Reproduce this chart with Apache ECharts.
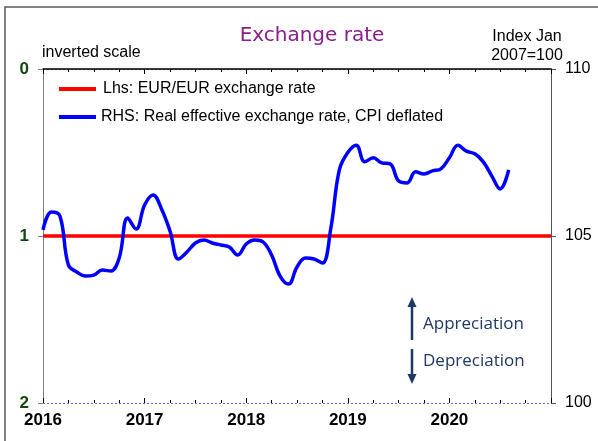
<!DOCTYPE html>
<html>
<head>
<meta charset="utf-8">
<script src="https://cdn.jsdelivr.net/npm/echarts@6/dist/echarts.min.js"></script>
<style>
  html, body { margin: 0; padding: 0; background: #ffffff; }
  #chart { width: 598px; height: 441px; }
</style>
</head>
<body>
<div id="chart"></div>
<script>
// Time span of the chart (years)
const startYear = 2016;
const endYear = 2021;
const yearLabels = [2016, 2017, 2018, 2019, 2020];

// Left axis (inverted): EUR/EUR exchange rate
const eurDates = [2016, 2021];
const eurValues = [1, 1];

// Right axis: real effective exchange rate, CPI deflated (index Jan 2007 = 100), monthly from Jan 2016
const reerValues = [
  105.18, 105.72, 105.60, 104.13, 103.92, 103.80, 103.83, 103.98, 103.95, 104.34, 105.54, 105.21,
  105.93, 106.23, 105.81, 105.15, 104.31, 104.52, 104.79, 104.88, 104.79, 104.73, 104.67, 104.43,
  104.76, 104.88, 104.82, 104.43, 103.80, 103.56, 104.07, 104.34, 104.31, 104.19, 105.24, 106.98,
  107.50, 107.72, 107.22, 107.34, 107.19, 107.16, 106.65, 106.59, 106.92, 106.86, 106.95, 107.01,
  107.34, 107.72, 107.54, 107.46, 107.22, 106.80, 106.41, 106.98
];

const leftMin = 0, leftMax = 2, leftStep = 1;
const rightMin = 100, rightMax = 110, rightStep = 5;

const seriesNames = ['Lhs: EUR/EUR exchange rate', 'RHS: Real effective exchange rate, CPI deflated'];

const FONT = 'Liberation Sans, Arial, sans-serif';
const NAVY = '#1f3864';

const chart = echarts.init(document.getElementById('chart'), null, { renderer: 'canvas' });

const xCommon = {
  type: 'value',
  min: startYear,
  max: endYear,
  interval: 1,
  position: 'bottom',
  splitLine: { show: false },
  minorSplitLine: { show: false }
};

chart.setOption({
  animation: false,
  backgroundColor: '#ffffff',
  title: {
    text: 'Exchange rate',
    left: 307,
    top: 21,
    textAlign: 'center',
    textStyle: { fontFamily: 'DejaVu Sans, sans-serif', fontSize: 20, fontWeight: 'normal', color: '#8b1c8b' }
  },
  legend: {
    orient: 'vertical',
    left: 54,
    top: 76,
    itemWidth: 37,
    itemHeight: 4,
    itemGap: 12,
    icon: 'rect',
    selectedMode: false,
    textStyle: { fontFamily: FONT, fontSize: 16, lineHeight: 16, color: '#000000' },
    data: [
      { name: seriesNames[0], textStyle: { padding: [0, 0, 0, 2] } },
      { name: seriesNames[1] }
    ]
  },
  grid: { left: 43, right: 47, top: 69, bottom: 38, containLabel: false },
  xAxis: [
    Object.assign({}, xCommon, {
      axisLine: { show: true, lineStyle: { color: '#000000', width: 1.5 } },
      axisTick: { show: true, length: 5, lineStyle: { color: '#000000', width: 1 } },
      minorTick: { show: true, splitNumber: 4, length: 3, lineStyle: { color: '#000000', width: 1 } },
      axisLabel: {
        show: true,
        showMinLabel: true,
        margin: 9,
        fontFamily: FONT,
        fontSize: 17,
        fontWeight: 'bold',
        color: '#000000',
        formatter: v => (yearLabels.indexOf(v) >= 0 ? String(v) : '')
      }
    }),
    // inner half of the crossing tick marks
    Object.assign({}, xCommon, {
      axisLine: { show: false },
      axisTick: { show: true, inside: true, length: 5, lineStyle: { color: '#000000', width: 1 } },
      minorTick: { show: true, splitNumber: 4, length: 3, lineStyle: { color: '#000000', width: 1 } },
      axisLabel: { show: false }
    })
  ],
  yAxis: [
    {
      type: 'value',
      position: 'left',
      inverse: true,
      min: leftMin,
      max: leftMax,
      interval: leftStep,
      axisLine: { show: true, lineStyle: { color: '#808080', width: 1 } },
      axisTick: { show: true, length: 5, lineStyle: { color: '#808080', width: 1 } },
      axisLabel: { margin: 14, fontFamily: FONT, fontSize: 17, fontWeight: 'bold', color: '#0e4a0e' },
      splitLine: { show: false }
    },
    {
      type: 'value',
      position: 'right',
      min: rightMin,
      max: rightMax,
      interval: rightStep,
      axisLine: { show: true, lineStyle: { color: '#555555', width: 1 } },
      axisTick: { show: true, length: 5, lineStyle: { color: '#555555', width: 1 } },
      axisLabel: { margin: 14, fontFamily: FONT, fontSize: 16, color: '#000000' },
      splitLine: { show: true, lineStyle: { color: '#6a6ad0', width: 1, type: [2, 2] } }
    }
  ],
  series: [
    {
      name: seriesNames[0],
      type: 'line',
      xAxisIndex: 0,
      yAxisIndex: 0,
      symbol: 'none',
      data: eurDates.map((d, i) => [d, eurValues[i]]),
      lineStyle: { color: '#ff0000', width: 3.5 },
      itemStyle: { color: '#ff0000' },
      z: 3
    },
    {
      name: seriesNames[1],
      type: 'line',
      xAxisIndex: 0,
      yAxisIndex: 1,
      symbol: 'none',
      smooth: 0.4,
      data: reerValues.map((v, i) => [startYear + i / 12, v]),
      lineStyle: { color: '#0000ff', width: 3.5 },
      itemStyle: { color: '#0000ff' },
      z: 4
    }
  ],
  graphic: [
    {
      type: 'rect', silent: true, z: -10,
      shape: { x: 5, y: 7, width: 700, height: 600 },
      style: { fill: 'none', stroke: '#5a5a5a', lineWidth: 1.5 }
    },
    {
      type: 'text', silent: true, x: 42, y: 53,
      style: { text: 'inverted scale', fontFamily: FONT, fontSize: 16, fill: '#000000', verticalAlign: 'middle', align: 'left' }
    },
    {
      type: 'text', silent: true, x: 527, y: 37,
      style: { text: 'Index Jan', fontFamily: FONT, fontSize: 16, fill: '#000000', verticalAlign: 'middle', align: 'center' }
    },
    {
      type: 'text', silent: true, x: 527, y: 56,
      style: { text: '2007=100', fontFamily: FONT, fontSize: 16, fill: '#000000', verticalAlign: 'middle', align: 'center' }
    },
    // appreciation / depreciation arrows
    {
      type: 'line', silent: true,
      shape: { x1: 412, y1: 340, x2: 412, y2: 305 },
      style: { stroke: NAVY, lineWidth: 2.5 }
    },
    {
      type: 'polygon', silent: true,
      shape: { points: [[407.5, 307], [412, 297], [416.5, 307]] },
      style: { fill: NAVY }
    },
    {
      type: 'line', silent: true,
      shape: { x1: 412, y1: 349, x2: 412, y2: 376 },
      style: { stroke: NAVY, lineWidth: 2.5 }
    },
    {
      type: 'polygon', silent: true,
      shape: { points: [[407.5, 374], [412, 384], [416.5, 374]] },
      style: { fill: NAVY }
    },
    {
      type: 'text', silent: true, x: 423, y: 324,
      style: { text: 'Appreciation', fontFamily: 'Open Sans, Noto Sans, sans-serif', fontSize: 17, fill: NAVY, verticalAlign: 'middle', align: 'left' }
    },
    {
      type: 'text', silent: true, x: 423, y: 361,
      style: { text: 'Depreciation', fontFamily: 'Open Sans, Noto Sans, sans-serif', fontSize: 17, fill: NAVY, verticalAlign: 'middle', align: 'left' }
    }
  ]
});
</script>
</body>
</html>
